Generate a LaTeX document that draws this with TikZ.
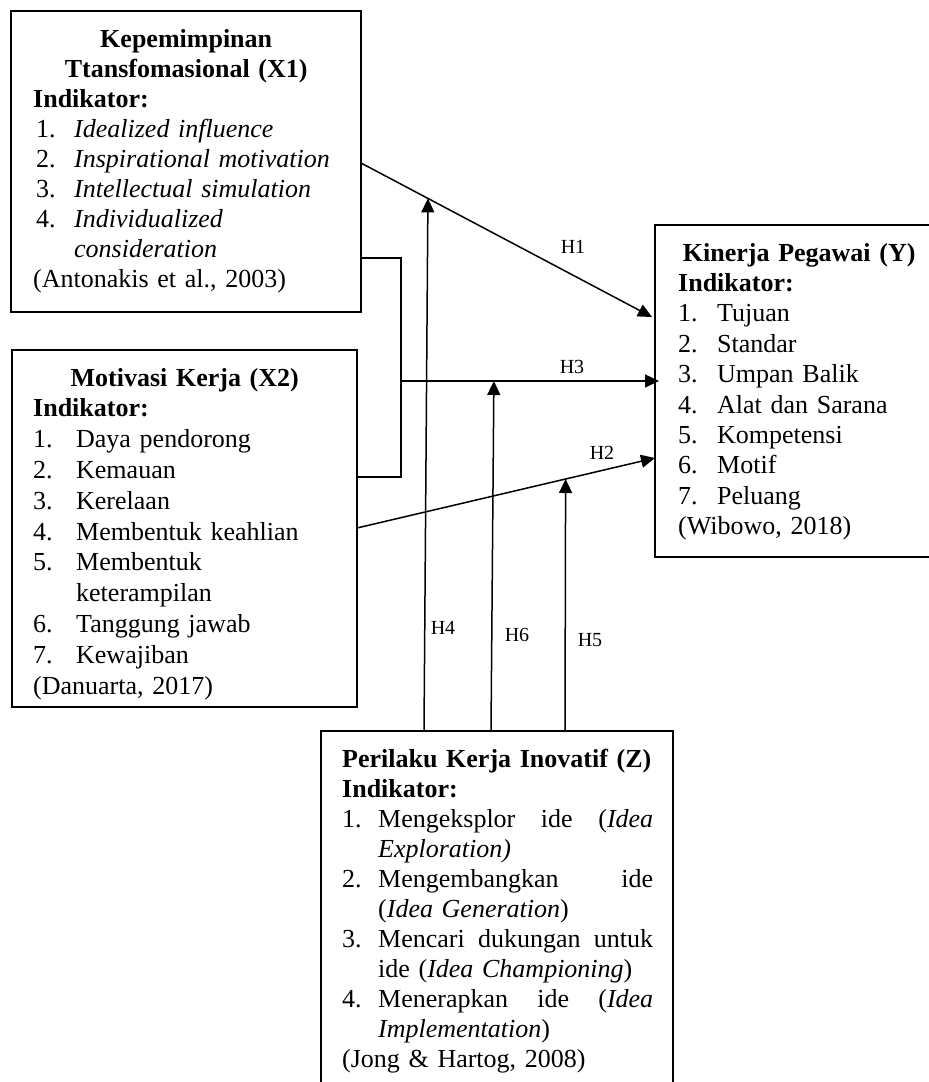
\documentclass[tikz,border=0pt]{standalone}
\usepackage{fontspec}
\setmainfont{Liberation Serif}
\usetikzlibrary{arrows.meta}
\newcommand{\nomor}[2]{\makebox[#1][l]{#2}}

\begin{document}
\begin{tikzpicture}[x=1pt, y=-1pt,
    box/.style={draw, line width=1.5pt, outer sep=0pt, inner sep=0pt, anchor=north west},
    txt/.style={anchor=north west, inner sep=0pt, align=left, font=\fontsize{26}{30}\selectfont},
    link/.style={line width=1.5pt},
    arr/.style={line width=1.5pt, -{Triangle[length=14pt, width=13pt]}},
    lbl/.style={font=\fontsize{20}{22}\selectfont, inner sep=0pt}]
    \useasboundingbox (0,0) rectangle (929,1082);
    \clip (0,0) rectangle (929,1082);
    % Kepemimpinan Transformasional (X1)
    \node[box, minimum width=350, minimum height=301] (x1) at (11,11) {};
    \node[txt, text width=306] (x1-txt) at (33,26) {\strut\makebox[\linewidth]{\textbf{Kepemimpinan}}\\
        \makebox[\linewidth]{\textbf{Ttansfomasional (X1)}}\\
        \textbf{Indikator:}\\
        \hspace*{3pt}\nomor{38pt}{1.}\textit{Idealized influence}\\
        \hspace*{3pt}\nomor{38pt}{2.}\textit{Inspirational motivation}\\
        \hspace*{3pt}\nomor{38pt}{3.}\textit{Intellectual simulation}\\
        \hspace*{3pt}\nomor{38pt}{4.}\textit{Individualized}\\
        \hspace*{41pt}\textit{consideration}\\
        (Antonakis et al., 2003)};
    % Motivasi Kerja (X2)
    \node[box, minimum width=345, minimum height=357] (x2) at (12,350) {};
    \node[txt, text width=303, font=\fontsize{26}{30.8}\selectfont] (x2-txt) at (33,364.4) {\strut\makebox[\linewidth]{\textbf{Motivasi Kerja (X2)}}\\
        \textbf{Indikator:}\\
        \nomor{43pt}{1.}Daya pendorong\\
        \nomor{43pt}{2.}Kemauan\\
        \nomor{43pt}{3.}Kerelaan\\
        \nomor{43pt}{4.}Membentuk keahlian\\
        \nomor{43pt}{5.}Membentuk\\
        \hspace*{43pt}keterampilan\\
        \nomor{43pt}{6.}Tanggung jawab\\
        \nomor{43pt}{7.}Kewajiban\\
        (Danuarta, 2017)};
    % Kinerja Pegawai (Y)
    \node[box, minimum width=290, minimum height=332] (y) at (655,225) {};
    \node[txt, text width=242, font=\fontsize{26}{30.4}\selectfont] (y-txt) at (678,239.7) {\strut\makebox[\linewidth]{\textbf{Kinerja Pegawai (Y)}}\\
        \textbf{Indikator:}\\
        \nomor{39pt}{1.}Tujuan\\
        \nomor{39pt}{2.}Standar\\
        \nomor{39pt}{3.}Umpan Balik\\
        \nomor{39pt}{4.}Alat dan Sarana\\
        \nomor{39pt}{5.}Kompetensi\\
        \nomor{39pt}{6.}Motif\\
        \nomor{39pt}{7.}Peluang\\
        (Wibowo, 2018)};
    % Perilaku Kerja Inovatif (Z)
    \node[box, minimum width=352, minimum height=380] (z) at (321,731) {};
    \node[txt, text width=311] (z-txt) at (342,746) {\strut\textbf{Perilaku Kerja Inovatif (Z)}\\
        \textbf{Indikator:}\\
        \makebox[\linewidth][l]{\nomor{36pt}{1.}Mengeksplor\hfill ide\hfill (\textit{Idea}}\\
        \hspace*{36pt}\textit{Exploration)}\\
        \makebox[\linewidth][l]{\nomor{36pt}{2.}Mengembangkan\hfill ide}\\
        \hspace*{36pt}(\textit{Idea Generation})\\
        \makebox[\linewidth][l]{\nomor{36pt}{3.}Mencari\hfill dukungan\hfill untuk}\\
        \hspace*{36pt}ide (\textit{Idea Championing})\\
        \makebox[\linewidth][l]{\nomor{36pt}{4.}Menerapkan\hfill ide\hfill (\textit{Idea}}\\
        \hspace*{36pt}\textit{Implementation})\\
        (Jong \& Hartog, 2008)};
    % ports on the boxes
    \coordinate (x1-h1) at (361,163);
    \coordinate (x1-b) at (361,258);
    \coordinate (x2-b) at (357,477);
    \coordinate (x2-h2) at (357,528);
    \coordinate (join) at (401,381);
    \coordinate (y-h1) at (652,317);
    \coordinate (y-h3) at (659,381);
    \coordinate (y-h2) at (655,458);
    \coordinate (z-h4) at (424,731);
    \coordinate (z-h6) at (491,731);
    \coordinate (z-h5) at (565,731);
    % direct effects
    \draw[arr] (x1-h1) -- (y-h1);
    \draw[link] (x1-b) -| (join) |- (x2-b);
    \draw[arr] (join) -- (y-h3);
    \draw[arr] (x2-h2) -- (y-h2);
    \path (x1-h1) -- (y-h1) coordinate[pos=0.23] (m4);
    \path (join) -- (y-h3) coordinate[pos=0.36] (m6);
    \path (x2-h2) -- (y-h2) coordinate[pos=0.70] (m5);
    % moderation by Z
    \draw[arr] (z-h4) -- (m4);
    \draw[arr] (z-h6) -- (m6);
    \draw[arr] (z-h5) -- (m5);
    % labels
    \node[lbl] (h1) at (573,247) {H1};
    \node[lbl] (h3) at (572,367) {H3};
    \node[lbl] (h2) at (602,453) {H2};
    \node[lbl] (h4) at (443,628) {H4};
    \node[lbl] (h6) at (517,635) {H6};
    \node[lbl] (h5) at (590,640) {H5};
\end{tikzpicture}
\end{document}
